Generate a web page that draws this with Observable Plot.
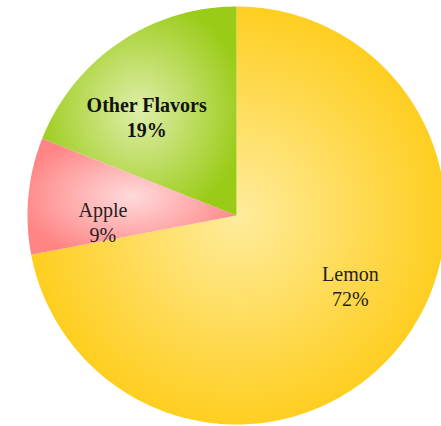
<!DOCTYPE html>
<html>
<head>
<meta charset="utf-8">
<script src="https://cdn.jsdelivr.net/npm/d3@7"></script>
<script src="https://cdn.jsdelivr.net/npm/@observablehq/plot@0.6"></script>
<style>
  html, body { margin: 0; padding: 0; background: #ffffff; }
  #chart svg { display: block; }
</style>
</head>
<body>
<div id="chart"></div>
<script>
// Data
const categories = ["Lemon", "Apple", "Other Flavors"];
const shares = [72, 9, 19];
const labelTexts = ["72%", "9%", "19%"];

// Styles (per category)
const edgeColors = ["#FECB14", "#FF8585", "#9ACB17"];
const centerColors = ["#FFEC9C", "#FFDADB", "#DFEEAA"];
const boldLabel = [false, false, true];

const pie = d3.pie().sort(null).value(d => d)(shares);

// Build slice outlines in data space (unit circle), angle 0 at top, clockwise
const slicePoints = pie.map((p, i) => {
  const pts = [{x: 0, y: 0, name: categories[i]}];
  const n = Math.max(8, Math.ceil((p.endAngle - p.startAngle) / (Math.PI / 180)));
  for (let k = 0; k <= n; k++) {
    const a = p.startAngle + (p.endAngle - p.startAngle) * k / n;
    pts.push({x: Math.sin(a), y: Math.cos(a), name: categories[i]});
  }
  pts.push({x: 0, y: 0, name: categories[i]});
  return pts;
});

// label anchor: along (slightly rotated) bisector
const labelFrac = 0.64;
const labelTurn = -8 * Math.PI / 180;
const labels = pie.map((p, i) => {
  const a = (p.startAngle + p.endAngle) / 2 + labelTurn;
  return {
    x: labelFrac * Math.sin(a),
    y: labelFrac * Math.cos(a),
    text: categories[i] + "\n" + labelTexts[i],
    bold: boldLabel[i]
  };
});

const W = 441, H = 426;
const R = 209, cx = 236, cy = 215;
const font = "'Liberation Serif', 'DejaVu Serif', serif";

const chart = Plot.plot({
  width: W,
  height: H,
  marginLeft: cx - R,
  marginRight: 0,
  marginTop: cy - R,
  marginBottom: H - (cy + R),
  x: {domain: [-1, (W - cx) / R], axis: null},
  y: {domain: [-1, 1], axis: null},
  style: {background: "#ffffff", overflow: "visible"},
  marks: [
    ...slicePoints.map((pts, i) => Plot.line(pts, {
      x: "x", y: "y",
      fill: `url(#grad-${i})`,
      stroke: "none",
      curve: "linear"
    })),
    Plot.text(labels.filter(d => !d.bold), {
      x: "x", y: "y", text: "text",
      fontFamily: font,
      fontSize: 20,
      lineHeight: 1.25,
      fill: "#222222"
    }),
    Plot.text(labels.filter(d => d.bold), {
      x: "x", y: "y", text: "text",
      fontFamily: font,
      fontSize: 20,
      fontWeight: "bold",
      lineHeight: 1.25,
      fill: "#111111"
    })
  ]
});

// Gradients
const svg = d3.select(chart);
const defs = svg.insert("defs", ":first-child");
edgeColors.forEach((c, i) => {
  const g = defs.append("radialGradient")
    .attr("id", `grad-${i}`)
    .attr("cx", "50%").attr("cy", "50%").attr("r", "55%");
  g.append("stop").attr("offset", "0%").attr("stop-color", centerColors[i]);
  g.append("stop").attr("offset", "100%").attr("stop-color", c);
});

document.getElementById("chart").appendChild(chart);
</script>
</body>
</html>
